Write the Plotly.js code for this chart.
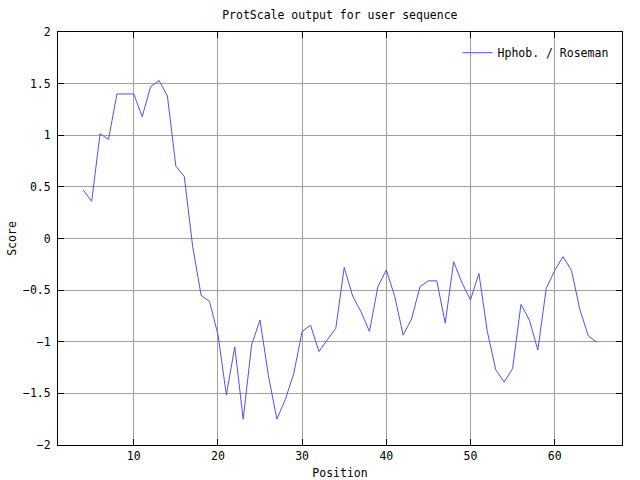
<!DOCTYPE html>
<html>
<head>
<meta charset="utf-8">
<script src="https://cdn.plot.ly/plotly-3.0.1.min.js"></script>
<style>
  html, body { margin: 0; padding: 0; background: #fff; }
  #chart { width: 640px; height: 480px; }
</style>
</head>
<body>
<div id="chart"></div>
<script>
// ProtScale, Hphob. / Roseman, window of 7
var positions = [4, 5, 6, 7, 8, 9, 10, 11, 12, 13, 14, 15, 16, 17, 18, 19, 20,
  21, 22, 23, 24, 25, 26, 27, 28, 29, 30, 31, 32, 33, 34, 35, 36, 37, 38, 39, 40,
  41, 42, 43, 44, 45, 46, 47, 48, 49, 50, 51, 52, 53, 54, 55, 56, 57, 58, 59, 60,
  61, 62, 63, 64, 65];

var scores = [0.47, 0.36, 1.015, 0.96, 1.40, 1.40, 1.40, 1.18, 1.47, 1.53, 1.38, 0.70, 0.60, -0.08, -0.55, -0.61, -0.93,
  -1.515, -1.05, -1.75, -1.03, -0.79, -1.33, -1.75, -1.56, -1.31, -0.90, -0.84, -1.095, -0.98, -0.87, -0.28, -0.557, -0.71, -0.90, -0.467, -0.305,
  -0.56, -0.935, -0.78, -0.467, -0.41, -0.41, -0.82, -0.225, -0.43, -0.596, -0.337, -0.90, -1.27, -1.39, -1.26, -0.638, -0.79, -1.08, -0.483, -0.31,
  -0.176, -0.31, -0.69, -0.944, -1.005];

var mono = 'DejaVu Sans Mono, monospace';

var trace1 = {
  x: positions,
  y: scores,
  type: 'scatter',
  mode: 'lines',
  name: 'Hphob. / Roseman',
  line: { color: 'rgb(80,80,255)', width: 1 },
  hoverinfo: 'none'
};

var layout = {
  width: 640,
  height: 480,
  margin: { l: 58, r: 18, t: 32, b: 35 },
  paper_bgcolor: '#fff',
  plot_bgcolor: '#fff',
  font: { family: mono, size: 11.5, color: '#000' },
  title: {
    text: 'ProtScale output for user sequence',
    font: { family: mono, size: 11.5, color: '#000' },
    x: 0.531, xanchor: 'center',
    y: 0.969, yanchor: 'middle'
  },
  showlegend: true,
  legend: {
    x: 0.985, xanchor: 'right',
    y: 0.985, yanchor: 'top',
    bgcolor: 'rgba(0,0,0,0)',
    font: { family: mono, size: 11.5 }
  },
  xaxis: {
    range: [1, 68],
    tick0: 0, dtick: 10,
    ticks: 'inside', ticklen: 6, tickcolor: '#000',
    showline: true, linecolor: '#000', linewidth: 1, mirror: 'ticks',
    showgrid: true, gridcolor: '#a0a0a0', gridwidth: 1,
    zeroline: false,
    title: { text: 'Position', font: { family: mono, size: 11.5 }, standoff: 9 }
  },
  yaxis: {
    range: [-2, 2],
    tick0: 0, dtick: 0.5,
    ticks: 'inside', ticklen: 6, tickcolor: '#000',
    showline: true, linecolor: '#000', linewidth: 1, mirror: 'ticks',
    showgrid: true, gridcolor: '#a0a0a0', gridwidth: 1,
    zeroline: false,
    ticklabelstandoff: 4,
    title: { text: 'Score', font: { family: mono, size: 11.5 }, standoff: 3 }
  }
};

Plotly.newPlot('chart', [trace1], layout, { staticPlot: true });
</script>
</body>
</html>
